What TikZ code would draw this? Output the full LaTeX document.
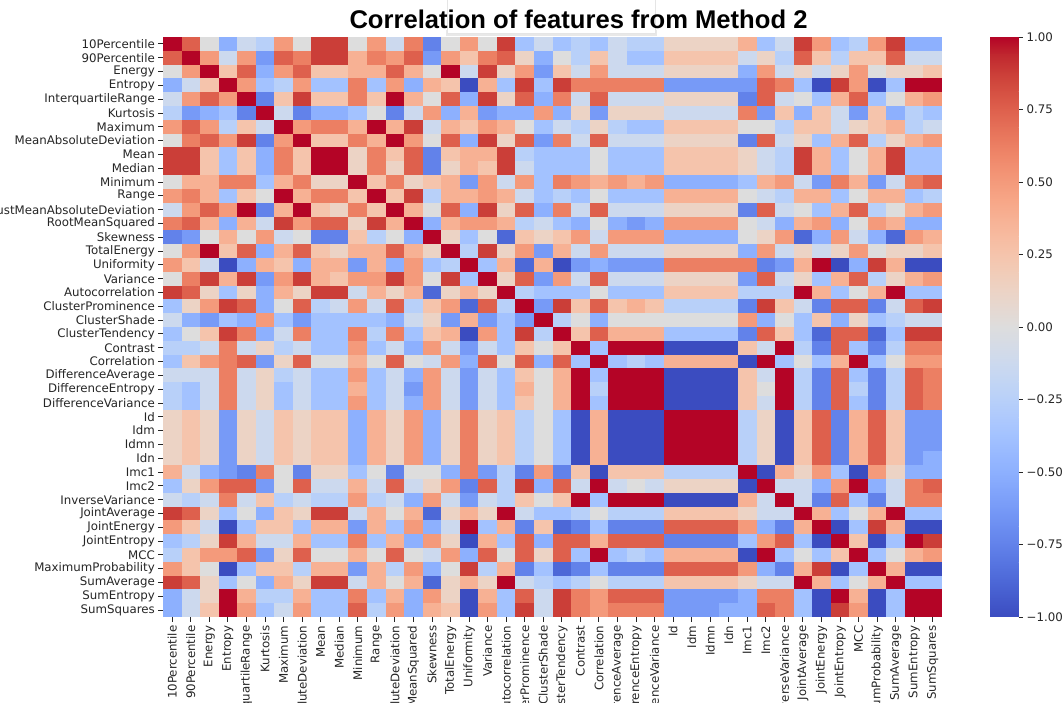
\documentclass[tikz,border=0pt]{standalone}
\usepackage{fontspec}
\setmainfont{DejaVu Sans}
\newfontfamily\titlefont{Liberation Sans}

% coolwarm colour ramp, 33 stops from -1 (cb0) to +1 (cb32)
\definecolor{cb0}{RGB}{59,76,192}
\definecolor{cb1}{RGB}{68,90,204}
\definecolor{cb2}{RGB}{77,104,215}
\definecolor{cb3}{RGB}{87,117,225}
\definecolor{cb4}{RGB}{98,130,234}
\definecolor{cb5}{RGB}{108,142,241}
\definecolor{cb6}{RGB}{119,154,247}
\definecolor{cb7}{RGB}{130,165,251}
\definecolor{cb8}{RGB}{141,176,254}
\definecolor{cb9}{RGB}{152,185,255}
\definecolor{cb10}{RGB}{163,194,255}
\definecolor{cb11}{RGB}{174,201,253}
\definecolor{cb12}{RGB}{184,208,249}
\definecolor{cb13}{RGB}{194,213,244}
\definecolor{cb14}{RGB}{204,217,238}
\definecolor{cb15}{RGB}{213,219,230}
\definecolor{cb16}{RGB}{221,221,221}
\definecolor{cb17}{RGB}{229,216,209}
\definecolor{cb18}{RGB}{236,211,197}
\definecolor{cb19}{RGB}{241,204,184}
\definecolor{cb20}{RGB}{245,196,172}
\definecolor{cb21}{RGB}{247,187,160}
\definecolor{cb22}{RGB}{247,177,148}
\definecolor{cb23}{RGB}{247,166,135}
\definecolor{cb24}{RGB}{244,154,123}
\definecolor{cb25}{RGB}{241,141,111}
\definecolor{cb26}{RGB}{236,127,99}
\definecolor{cb27}{RGB}{229,112,88}
\definecolor{cb28}{RGB}{222,96,77}
\definecolor{cb29}{RGB}{213,80,66}
\definecolor{cb30}{RGB}{203,62,56}
\definecolor{cb31}{RGB}{192,40,47}
\definecolor{cb32}{RGB}{180,4,38}
\definecolor{labelgray}{RGB}{38,38,38}

\tikzset{
  lblfont/.style={font=\fontsize{11.8}{13}\selectfont, text=labelgray},
  ylab/.style={lblfont, anchor=east, inner sep=0pt},
  xlab/.style={lblfont, anchor=east, rotate=90, inner sep=0pt},
  cblab/.style={lblfont, anchor=west, inner sep=0pt},
  tickmark/.style={line width=0.9pt, draw=labelgray},
}

\begin{document}
\begin{tikzpicture}[x=1pt,y=-1pt]
\useasboundingbox (0,0) rectangle (1064,702);
\clip (0,0) rectangle (1064,702);
\fill[white] (0,0) rectangle (1064,702);

% floating panel behind the title
\fill[black!9] (446,30) rectangle (657,36);
\fill[white, draw=black!10, line width=0.6pt] (447,-2) rectangle (655,33.5);

\node[font=\titlefont\bfseries\fontsize{25.6}{28}\selectfont, anchor=base, inner sep=0pt] (title)
  at (578.5,28.5) {Correlation of features from Method 2};

% correlation matrix: upper triangle per row, level 0..16 = -1..+1, mirrored
\foreach \row [count=\i] in {
{16,14,8,4,7,6,12,8,15,15,8,12,7,13,2,8,12,8,15,5,7,5,6,5,7,6,6,9,9,9,9,11,5,7,15,12,5,6,12,15,4,4},
{16,12,7,12,3,14,13,15,15,11,13,12,14,3,12,10,13,14,9,4,8,6,10,7,5,5,10,10,10,10,7,9,6,14,10,6,10,10,14,7,7},
{16,10,14,4,12,14,10,10,11,11,14,11,8,16,7,15,9,12,3,10,7,12,7,7,7,9,9,9,9,4,12,7,9,7,9,12,8,9,9,10},
{16,12,5,6,12,5,5,13,5,12,4,11,10,0,11,5,15,5,15,13,13,13,13,13,3,3,3,3,3,14,13,5,0,15,12,0,5,16,16},
{16,2,10,15,10,10,13,10,16,11,8,14,4,15,9,14,4,13,7,14,7,7,7,9,9,9,9,2,14,7,8,5,11,14,5,8,11,12},
{16,7,2,4,4,5,8,2,7,12,4,11,3,4,4,12,4,9,3,9,9,9,7,7,7,7,13,3,10,4,10,7,3,10,4,6,5},
{16,12,13,13,11,16,11,15,7,11,10,12,11,8,5,7,6,9,6,5,5,10,10,10,10,8,8,6,10,10,7,9,10,11,6,7},
{16,10,10,13,11,16,12,8,14,4,15,9,14,3,13,7,14,7,7,7,9,9,9,9,2,14,7,9,5,11,14,6,9,11,12},
{16,16,9,13,10,14,2,10,11,11,15,6,5,5,5,8,5,5,5,10,10,10,10,9,7,6,15,11,5,8,11,15,5,5},
{16,9,13,9,14,2,9,11,10,15,7,5,5,5,8,5,5,5,10,10,10,10,9,7,6,15,11,5,8,11,15,5,5},
{16,10,13,9,10,11,3,12,7,12,5,13,12,11,12,11,12,4,4,4,4,5,11,12,7,3,13,11,3,7,13,14},
{16,10,15,6,11,11,12,11,7,5,6,5,8,5,5,5,11,11,11,11,8,7,6,11,11,5,8,11,11,5,6},
{16,11,8,14,4,15,9,14,4,13,7,14,7,7,7,9,9,9,9,2,14,7,8,5,11,14,6,8,11,12},
{16,4,11,12,12,11,6,7,5,4,8,4,3,4,12,12,12,12,8,7,4,11,12,4,8,12,11,4,4},
{16,9,5,8,1,10,9,10,12,7,12,12,12,4,4,4,4,8,9,12,1,4,12,7,4,1,12,11},
{16,6,15,9,12,3,11,7,12,7,7,7,9,9,9,9,4,12,7,9,7,9,12,8,9,9,10},
{16,5,11,1,11,0,3,4,3,3,3,13,13,13,13,13,2,3,11,16,0,4,15,11,0,0},
{16,9,14,3,12,7,14,7,7,7,9,9,9,9,3,14,7,9,5,11,14,6,9,11,12},
{16,6,5,5,5,8,5,5,5,10,10,10,10,6,6,6,16,11,5,8,11,16,5,5},
{16,3,15,10,14,10,11,10,6,6,6,6,2,15,10,7,2,14,14,2,7,14,15},
{16,6,8,4,8,8,8,8,8,8,8,12,4,8,5,10,4,9,5,6,7,7},
{16,10,14,11,11,11,5,5,5,5,2,14,10,5,1,14,14,1,5,15,15},
{16,5,16,16,16,0,0,0,0,10,7,16,6,2,14,5,2,6,13,13},
{16,5,6,5,11,11,11,11,0,16,5,8,5,11,16,5,8,12,12},
{16,16,16,0,0,0,0,10,7,16,6,2,14,5,2,6,14,13},
{16,16,0,0,0,0,10,8,16,6,2,14,6,2,6,14,13},
{16,0,0,0,0,10,7,16,6,2,14,5,2,6,14,13},
{16,16,16,16,6,9,0,10,14,2,11,14,10,3,3},
{16,16,16,6,9,0,10,14,2,11,14,10,3,3},
{16,16,6,9,0,10,14,2,11,14,10,3,3},
{16,6,9,0,10,14,2,11,14,10,3,4},
{16,0,11,9,12,5,0,12,9,4,4},
{16,7,7,4,12,16,4,7,13,14},
{16,7,2,14,5,2,7,13,13},
{16,11,5,8,11,16,5,5},
{16,0,5,15,11,0,0},
{16,10,0,5,16,15},
{16,5,8,11,12},
{16,11,0,0},
{16,5,5},
{16,16},
{16}} {
  \foreach \v [count=\k] in \row {
    \pgfmathtruncatemacro{\j}{\i+\k-1}
    \pgfmathtruncatemacro{\ci}{2*\v}
    \fill[cb\ci] ({163+(\j-1)*18.548},{37+(\i-1)*13.81}) rectangle +(18.85,14.1);
    \fill[cb\ci] ({163+(\i-1)*18.548},{37+(\j-1)*13.81}) rectangle +(18.85,14.1);
  }
}
% trim the overlap on the right and bottom edges
\fill[white] (942.1,30) rectangle (960,620);
\fill[white] (160,617) rectangle (945,622);

% axis labels and tick marks
\foreach \nm [count=\n] in {10Percentile,90Percentile,Energy,Entropy,InterquartileRange,Kurtosis,
  Maximum,MeanAbsoluteDeviation,Mean,Median,Minimum,Range,RobustMeanAbsoluteDeviation,
  RootMeanSquared,Skewness,TotalEnergy,Uniformity,Variance,Autocorrelation,ClusterProminence,
  ClusterShade,ClusterTendency,Contrast,Correlation,DifferenceAverage,DifferenceEntropy,
  DifferenceVariance,Id,Idm,Idmn,Idn,Imc1,Imc2,InverseVariance,JointAverage,JointEnergy,
  JointEntropy,MCC,MaximumProbability,SumAverage,SumEntropy,SumSquares} {
  \node[ylab] (ylab\n) at (155,{37+(\n-0.5)*13.81}) {\nm};
  \draw[tickmark] (158,{37+(\n-0.5)*13.81}) -- (163,{37+(\n-0.5)*13.81});
  \node[xlab] (xlab\n) at ({163+(\n-0.5)*18.548},625.5) {\nm};
  \draw[tickmark] ({163+(\n-0.5)*18.548},617) -- ({163+(\n-0.5)*18.548},622);
}

% colour bar
\foreach \s in {0,...,31} {
  \pgfmathtruncatemacro{\ctop}{32-\s}
  \pgfmathtruncatemacro{\cbot}{31-\s}
  \shade[top color=cb\ctop, bottom color=cb\cbot]
    (990,{37+\s*18.125-0.3}) rectangle (1018.5,{37+(\s+1)*18.125+0.3});
}
\fill[white] (985,30) rectangle (1022,36.9);
\fill[white] (985,617.1) rectangle (1022,625);
\foreach \t/\lab [count=\m] in {0/1.00,1/0.75,2/0.50,3/0.25,4/0.00,5/−0.25,6/−0.50,7/−0.75,8/−1.00} {
  \draw[tickmark] (1018.5,{37+\t*72.5}) -- (1023,{37+\t*72.5});
  \node[cblab] (cblab\m) at (1026.5,{37+\t*72.5}) {\lab};
}
\end{tikzpicture}
\end{document}
